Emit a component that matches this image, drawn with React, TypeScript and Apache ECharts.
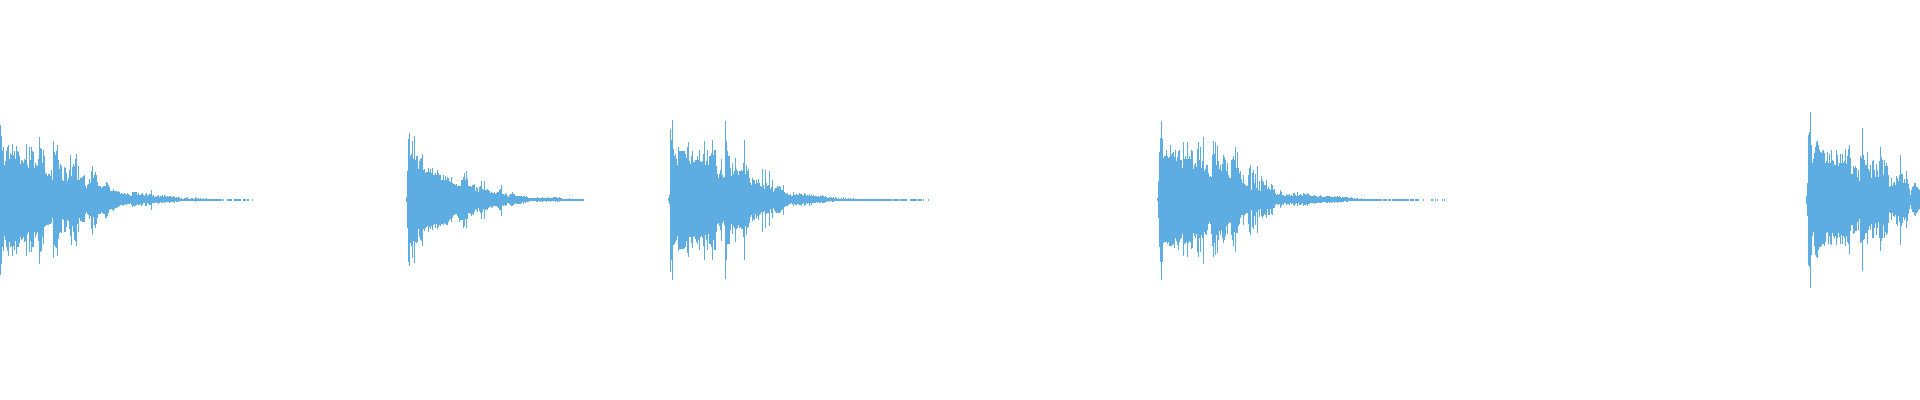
import React, { useEffect, useRef } from "react";
import * as echarts from "echarts";

const burstStarts = [0, 406, 668, 1157, 1806];

const burst1Top = [
74,63,48,52,34,38,48,52,54,40,46,44,55,44,48,40,53,48,47,43,
35,39,38,36,40,39,55,34,31,52,39,52,48,47,31,36,34,33,40,62,
51,50,36,49,43,26,25,23,25,25,23,29,19,58,47,44,48,54,39,30,
35,33,19,18,32,31,26,18,21,29,44,23,32,35,33,40,45,19,33,19,
21,21,22,23,24,13,11,14,15,20,16,28,33,21,24,27,24,17,13,13,
13,11,12,13,13,13,17,16,14,12,8,8,8,10,8,8,8,7,8,7,
5,6,5,5,6,5,4,6,5,4,3,3,7,7,7,7,7,4,6,4,
4,5,6,4,3,5,6,3,4,5,5,9,3,4,2,3,2,3,4,2,
3,3,4,2,4,3,2,3,2,3,3,2,2,3,2,1,2,1,2,2,
0.5,1,0.5,0.5,1,1,1,2,0.5,0.5,0.5,1,1,0.5,0.5,2,1,0.5,1,0.5,
1,0.5,0.5,1,0.5,0.5,1,0.5,0.5,0.5,0.5,0.5,0.5,0.5,0.5,0.5,0.5,0.5,0.5,0.5,
0.5,0.5,0,0.5,0,0,0,0.5,0.5,0.5,0.5,0.5,0,0,0.5,0.5,0.5,0.5,0.5,0.5,
0.5,0,0,0.5,0.5,0.5,0,0.5,0.5,0,0,0,0.5,
];
const burst1Bottom = [
75,64,47,51,36,40,47,51,56,42,47,46,56,46,50,41,54,47,47,43,
37,40,39,37,42,41,56,34,32,52,41,52,47,47,32,37,34,32,41,64,
52,51,37,44,27,26,25,25,25,24,24,23,18,58,45,47,48,56,39,33,
32,33,19,20,32,32,27,20,21,29,36,45,26,32,40,41,46,24,32,18,
21,21,22,22,22,14,12,14,15,19,16,29,35,17,25,28,24,18,14,14,
14,12,13,14,14,18,18,16,13,10,9,9,10,11,9,8,8,7,7,6,
5,5,5,6,5,4,5,4,4,4,3,5,7,6,6,6,5,4,5,5,
4,6,5,3,3,6,6,3,4,5,5,10,3,3,3,3,2,3,4,3,
2,3,3,2,3,2,2,2,2,3,2,2,2,2,3,1,2,2,1,2,
1,1,0.5,0.5,1,1,1,1,0.5,1,1,1,1,0.5,0.5,2,1,0.5,0.5,1,
0.5,0.5,0.5,1,0.5,0.5,1,0.5,0.5,0.5,0.5,0.5,0.5,0.5,0.5,0.5,0.5,0.5,0.5,0.5,
0.5,0.5,0,0.5,0,0,0,0.5,0.5,1,1,0.5,0,0,0.5,0.5,0.5,0.5,0.5,0.5,
0.5,0,0,0.5,0.5,0.5,0,0.5,0.5,0,0,0,0.5,
];

const burst2Top = [
2,28,60,66,43,45,58,40,63,39,43,43,30,38,40,41,45,29,30,26,
27,27,31,27,30,26,31,24,24,26,24,29,26,24,24,19,19,24,19,23,
19,22,21,18,17,22,16,15,15,14,15,13,13,13,13,19,19,22,26,19,
28,20,13,13,13,12,14,14,15,8,12,11,7,12,13,18,10,9,18,9,
9,10,9,8,6,7,6,6,7,5,6,7,7,9,10,14,5,5,4,6,
5,3,2,4,5,5,7,5,5,3,3,3,3,3,3,3,2,3,3,2,
3,2,1,1,1,1,1,1,1,1,1,2,1,1,1,1,2,1,1,1,
1,1,2,1,1,1,1,2,2,2,2,1,1,2,1,1,0.5,0.5,0.5,0.5,
0.5,0.5,0.5,1,0.5,0.5,0.5,0.5,0.5,0.5,0.5,0.5,0.5,0.5,0.5,0.5,0.5,0.5,
];
const burst2Bottom = [
2,28,62,66,43,46,58,41,63,42,43,42,29,37,40,41,46,29,31,28,
27,26,32,27,29,26,30,25,24,28,24,29,27,25,26,24,24,25,23,24,
25,25,22,20,19,22,18,15,15,14,14,16,18,22,20,20,20,28,26,19,
28,19,13,13,14,16,14,15,12,9,10,12,8,11,13,19,12,9,19,10,
9,10,8,7,6,8,7,6,6,6,6,7,8,10,10,16,5,6,5,6,
5,3,3,4,5,6,6,5,4,3,4,4,4,4,4,3,2,4,2,3,
2,2,2,1,1,1,1,1,1,1,2,2,1,1,2,1,2,1,1,1,
2,1,1,1,2,1,1,1,1,2,1,2,1,2,1,1,0.5,0.5,0.5,0.5,
0.5,0.5,0.5,1,0.5,0.5,0.5,0.5,0.5,0.5,0.5,0.5,0.5,0.5,0.5,0.5,0.5,0.5,
];

const burst3Top = [
1,4,70,59,79,50,43,45,40,34,52,48,48,48,48,48,48,45,41,52,
57,38,35,43,48,37,37,39,39,43,39,49,37,37,38,45,58,34,38,49,
34,43,43,46,59,44,49,49,33,25,21,25,29,40,24,21,22,78,58,48,
43,43,31,23,36,25,28,41,30,28,24,28,28,29,28,36,59,25,34,28,
30,21,16,14,21,19,19,15,19,16,20,16,13,12,30,14,10,29,16,13,
14,28,10,12,19,7,9,11,11,13,12,13,12,9,9,14,7,6,5,6,
4,4,5,3,3,7,4,4,5,4,4,6,5,5,4,3,6,5,3,4,
3,5,3,4,3,4,3,3,3,2,3,2,3,3,4,3,2,3,2,1,
1,2,1,2,1,2,0.5,2,1,0.5,1,0.5,0.5,1,0.5,2,0.5,1,0.5,0.5,
1,0.5,1,0.5,0.5,1,0.5,0.5,0.5,0.5,0.5,0.5,0.5,0.5,0.5,0.5,0.5,0.5,0.5,0.5,
0.5,0.5,0.5,0.5,0.5,0.5,0.5,0.5,0.5,0.5,0.5,0.5,0.5,0.5,0.5,0.5,0.5,0.5,0.5,0.5,
0.5,0.5,0.5,0.5,0,0.5,0.5,0.5,0.5,0.5,0.5,0,0.5,0.5,0.5,0.5,0.5,0.5,0.5,0,
0,0,0.5,0.5,0.5,0.5,0.5,0.5,0.5,0,0.5,0.5,0.5,0.5,0,0.5,0,0,0,0,
0.5,
];
const burst3Bottom = [
1,4,72,60,80,45,44,42,40,36,51,49,49,49,49,49,48,47,41,53,
57,37,37,43,48,37,36,39,42,44,40,50,37,36,38,46,60,35,40,50,
34,44,44,47,60,40,50,50,32,24,23,26,30,41,23,21,25,79,60,44,
44,44,30,24,34,26,28,42,29,28,25,28,27,29,29,37,60,26,35,28,
27,23,17,15,21,19,20,14,18,16,20,15,14,12,32,12,11,28,14,13,
13,26,9,13,18,8,10,12,13,13,13,13,12,10,9,15,7,6,6,6,
5,4,4,3,4,6,4,5,5,4,4,5,5,6,4,3,6,5,3,4,
3,6,3,5,3,3,3,3,2,3,2,3,3,2,3,3,3,2,2,1,
1,2,1,1,2,2,0.5,1,0.5,1,0.5,0.5,1,1,0.5,1,0.5,0.5,1,0.5,
1,1,0.5,0.5,0.5,1,0.5,0.5,0.5,0.5,0.5,0.5,0.5,0.5,0.5,0.5,0.5,0.5,0.5,0.5,
0.5,0.5,0.5,0.5,0.5,0.5,0.5,0.5,0.5,0.5,0.5,0.5,0.5,0.5,0.5,0.5,0.5,0.5,0.5,0.5,
0.5,0.5,0.5,0.5,0,0.5,0.5,0.5,0.5,0.5,0.5,0,0.5,0.5,0.5,0.5,0.5,0.5,0.5,0,
0,0,0.5,0.5,0.5,0.5,0.5,0.5,0.5,0,0.5,0.5,0.5,0.5,0,0.5,0,0,0,0,
0.5,
];

const burst4Top = [
1,18,47,61,78,60,41,43,43,49,43,41,42,54,44,46,47,42,49,38,
42,48,49,39,39,31,57,40,43,40,57,40,43,40,49,48,30,34,36,32,
50,57,39,52,31,38,62,28,30,34,34,26,22,23,22,44,58,45,57,34,
53,38,30,34,28,35,44,42,39,28,36,24,21,21,39,40,43,39,52,31,
47,31,26,28,20,16,24,15,14,13,13,24,31,34,9,26,29,16,25,11,
33,9,18,8,23,19,17,14,14,19,10,12,10,9,15,14,9,10,6,4,
5,4,5,9,7,4,4,3,3,5,4,4,5,3,4,3,6,6,4,3,
7,3,4,5,4,3,6,5,5,4,6,5,4,3,3,3,3,4,3,3,
2,2,3,4,3,2,2,2,2,3,3,3,3,2,2,2,2,3,2,2,
3,2,3,2,1,2,2,2,2,2,2,1,1,1,2,1,0.5,1,0.5,1,
1,0.5,0.5,0.5,1,0.5,0.5,0.5,0.5,0.5,0.5,0.5,0.5,0.5,0.5,0.5,0.5,0.5,0.5,0.5,
0.5,0.5,0.5,0.5,0.5,0,0.5,0.5,0.5,0.5,0,0.5,0.5,0.5,0,0.5,0.5,0.5,0.5,0.5,
0.5,0.5,0.5,0.5,0.5,0.5,0.5,0.5,0.5,0.5,0.5,0.5,0,0.5,0.5,0.5,0.5,0,0.5,0.5,
0.5,0.5,0,0,0,0,0.5,0,0,0,0,0,0,0,0.5,0.5,0,0,0.5,0,
0.5,0,0,0,0,0.5,0,0.5,
];
const burst4Bottom = [
1,18,47,62,80,62,43,42,42,42,44,42,46,46,46,45,44,48,38,41,
45,50,42,39,38,34,56,44,43,42,57,43,41,42,49,48,33,36,38,34,
52,57,38,52,35,38,64,32,34,35,30,24,22,24,34,46,57,43,55,35,
53,40,31,35,30,38,43,40,36,26,34,24,22,23,35,40,46,32,52,33,
33,26,24,18,15,15,25,15,14,13,13,24,32,35,10,27,29,16,25,12,
33,10,17,9,16,18,16,14,15,18,9,15,15,9,14,15,8,8,5,4,
4,5,4,8,6,4,5,3,3,5,4,4,5,3,4,3,5,6,4,3,
6,3,5,5,4,3,6,5,5,4,6,4,4,3,3,3,3,4,3,3,
3,2,3,3,3,2,2,2,2,3,3,2,3,2,3,2,2,3,2,2,
3,2,2,2,2,2,2,1,1,2,2,1,1,0.5,1,1,0.5,1,1,0.5,
1,0.5,0.5,0.5,1,0.5,1,0.5,0.5,0.5,0.5,0.5,0.5,0.5,0.5,0.5,0.5,0.5,0.5,0.5,
0.5,0.5,0.5,0.5,0.5,0,0.5,0.5,0.5,0.5,0,0.5,0.5,0.5,0,0.5,0.5,0.5,0.5,0.5,
0.5,0.5,0.5,0.5,0.5,0.5,0.5,0.5,0.5,0.5,0.5,0.5,0,0.5,0.5,0.5,0.5,0,0.5,0.5,
0.5,0.5,0,0,0,0,0.5,0,0,0,0,0,0,0,0.5,0.5,0,0,0.5,0,
0.5,0,0,0,0,0.5,0,0.5,
];

const burst5Top = [
3,16,64,67,87,54,36,40,46,52,57,58,54,49,47,46,48,49,46,36,
38,47,36,45,36,49,39,38,34,34,49,44,33,36,45,36,45,36,38,50,
35,43,50,54,41,25,25,33,31,33,31,22,29,18,43,41,71,44,39,34,
34,47,30,28,34,21,38,39,29,22,35,28,22,38,52,42,39,24,39,33,
36,33,24,12,13,21,13,16,17,14,23,21,18,24,44,25,25,16,20,16,
28,20,15,10,4,9,12,13,16,16,12,12,10,9,
];
const burst5Bottom = [
4,16,65,67,88,55,36,32,46,55,57,58,50,47,47,46,44,44,46,42,
33,32,44,36,44,45,33,36,38,36,45,38,33,37,44,35,44,36,38,46,
36,42,44,54,31,25,25,34,33,31,31,22,30,19,43,42,71,40,39,33,
33,44,30,26,30,24,38,38,28,23,35,28,22,38,51,41,38,25,38,32,
35,33,23,12,13,20,13,16,17,15,24,26,16,22,45,26,23,17,20,18,
28,21,14,9,5,9,12,12,15,16,13,12,10,9,
];

const bursts = [
  [burst1Top, burst1Bottom],
  [burst2Top, burst2Bottom],
  [burst3Top, burst3Bottom],
  [burst4Top, burst4Bottom],
  [burst5Top, burst5Bottom],
];

const waveColor = "#5DADE2";

export default function App() {
  const ref = useRef<HTMLDivElement>(null);
  useEffect(() => {
    document.body.style.margin = "0";
    const chart = echarts.init(ref.current!, undefined, { renderer: "svg" });
    const data: number[][] = [];
    bursts.forEach(([top, bottom], k) => {
      top.forEach((t, i) => {
        const b = bottom[i] ?? t;
        if (t > 0 || b > 0) data.push([burstStarts[k] + i, t, -b]);
      });
    });
    chart.setOption({
      animation: false,
      backgroundColor: "#ffffff",
      grid: { left: 0, right: 0, top: -0.5, bottom: 0.5 },
      xAxis: { type: "value", min: 0, max: 1920, show: false },
      yAxis: { type: "value", min: -200, max: 200, show: false },
      series: [
        {
          type: "custom",
          silent: true,
          clip: true,
          encode: { x: 0, y: [1, 2] },
          data,
          renderItem: (_p: any, api: any) => {
            const x = api.value(0);
            const a = api.coord([x, api.value(1)]);
            const c = api.coord([x + 1, api.value(2)]);
            const y0 = Math.floor(a[1]);
            const y1 = Math.ceil(c[1]);
            return {
              type: "rect",
              shape: { x: a[0], y: y0, width: c[0] - a[0], height: y1 - y0 },
              style: { fill: waveColor },
            };
          },
        },
      ],
    });
    return () => chart.dispose();
  }, []);
  return <div ref={ref} style={{ width: 1920, height: 400 }} />;
}
